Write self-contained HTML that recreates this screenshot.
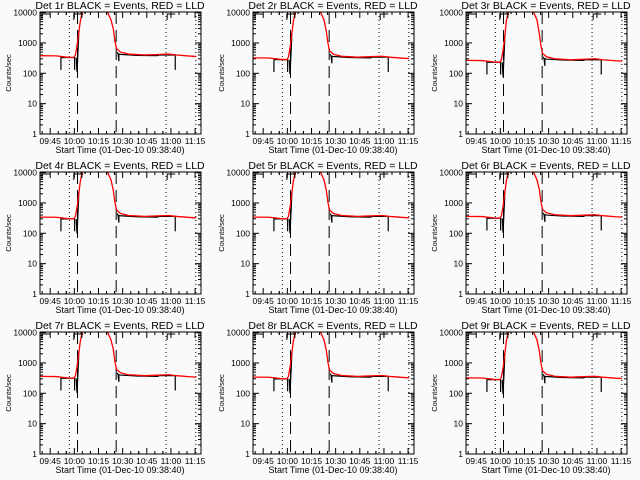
<!DOCTYPE html>
<html><head><meta charset="utf-8"><style>
body{margin:0;background:#fafafa;}
svg{display:block;font-family:"Liberation Sans",sans-serif;}
</style></head><body>
<svg id="c" width="640" height="480"></svg>
<script>
// minutes since 09:38:40
const redT=[0,10,17,21,22,23,24,25,26,27,30,40,42,44,45.5,46.5,47.5,50,55,65,75,80,85,93,97];
const redV=[380,375,340,330,400,800,2000,5000,9000,12000,15000,15000,10000,6000,3000,1200,650,500,430,400,420,430,400,370,360];
const blkSegs=[
 {t:[13,13,13,20,21,21.5,21.5,21.5], v:[340,130,330,330,330,330,130,330]},
 {t:[22.5,23,23.5,24,24], v:[330,110,400,1500,2500]},
 {t:[25.5,25.5,28,28], v:[9000,11000,11000,9000]},
 {t:[48,48.5,49,49,50,60,73,74,84,84], v:[500,430,250,430,420,390,380,400,400,130]}
];
const panelScale=[1.0,0.85,0.7,0.9,0.9,0.95,0.95,0.9,0.85];
const dottedT=[18.2,78.3,96.8];
const dashedT=[23.3,47.3];
const xTickLabels=["09:45","10:00","10:15","10:30","10:45","11:00","11:15"];
const xTickT=[6.33,21.33,36.33,51.33,66.33,81.33,96.33];
const yTickLabels=["1","10","100","1000","10000"];

const NS="http://www.w3.org/2000/svg";
const svg=document.getElementById('c');
function mk(tag,attrs,parent){const e=document.createElementNS(NS,tag);for(const k in attrs)e.setAttribute(k,attrs[k]);(parent||svg).appendChild(e);return e;}
for(let p=0;p<9;p++){
 const ox=(p%3)*213, oy=Math.floor(p/3)*160;
 const L=ox+40,R=ox+201,T=oy+12,B=oy+134;
 const xs=t=>L+(t/100)*(R-L);
 const ys=v=>B-Math.log10(v)/4.02*(B-T);
 const g=mk('g',{});
 
 
 const cid='clip'+p;
 const cp=mk('clipPath',{id:cid},g);mk('rect',{x:L,y:T,width:R-L,height:B-T},cp);
 const title=mk('text',{x:ox+120,y:oy+9,'text-anchor':'middle','font-size':'10.5'},g);
 title.textContent='Det '+(p+1)+'r BLACK = Events, RED = LLD';
 
 
 const yl=mk('text',{x:0,y:0,'text-anchor':'middle','font-size':'7.5',transform:`translate(${ox+11},${(T+B)/2}) rotate(-90)`},g);
 yl.textContent='Counts/sec';
 
 
 const xl=mk('text',{x:ox+120,y:oy+153,'text-anchor':'middle','font-size':'9'},g);
 xl.textContent='Start Time (01-Dec-10 09:38:40)';
 
 
 // y ticks
 for(let d=0;d<5;d++){
  const y=ys(Math.pow(10,d));
  mk('line',{x1:L,x2:L+6,y1:y,y2:y,stroke:'#000'},g);mk('line',{x1:R,x2:R-6,y1:y,y2:y,stroke:'#000'},g);
  const tl=mk('text',{x:L-3,y:y+3,'text-anchor':'end','font-size':'8.5'},g);tl.textContent=yTickLabels[d];
  
  
  if(d<4)for(let m=2;m<10;m++){const yy=ys(m*Math.pow(10,d));mk('line',{x1:L,x2:L+3,y1:yy,y2:yy,stroke:'#000'},g);mk('line',{x1:R,x2:R-3,y1:yy,y2:yy,stroke:'#000'},g);}
 }
 // x ticks
 xTickT.forEach((t,i)=>{
  const x=xs(t);
  mk('line',{x1:x,x2:x,y1:B,y2:B-6,stroke:'#000'},g);mk('line',{x1:x,x2:x,y1:T,y2:T+6,stroke:'#000'},g);
  for(let m=1;m<3;m++){const xm=xs(t+m*5);if(xm<R){mk('line',{x1:xm,x2:xm,y1:B,y2:B-3,stroke:'#000'},g);mk('line',{x1:xm,x2:xm,y1:T,y2:T+3,stroke:'#000'},g);}}
  const xm0=xs(t-5);if(xm0>L){mk('line',{x1:xm0,x2:xm0,y1:B,y2:B-3,stroke:'#000'},g);mk('line',{x1:xm0,x2:xm0,y1:T,y2:T+3,stroke:'#000'},g);}
  const tl=mk('text',{x:x,y:B+10,'text-anchor':'middle','font-size':'8.5'},g);tl.textContent=xTickLabels[i];
  
  
 });
 dottedT.forEach(t=>{const l=mk('line',{x1:xs(t),x2:xs(t),y1:T,y2:B,stroke:'#000','stroke-dasharray':'1,3'},g);
  });
 dashedT.forEach(t=>{const l=mk('line',{x1:xs(t),x2:xs(t),y1:T,y2:B,stroke:'#000','stroke-dasharray':'12,6'},g);
  });
 const sc=panelScale[p];
 const scl=v=>v<5000?v*sc:v;
 const dg=mk('g',{'clip-path':`url(#${cid})`},g);
 blkSegs.forEach(s=>{
  const pl=mk('polyline',{points:s.t.map((t,i)=>xs(t)+','+ys(scl(s.v[i]))).join(' '),fill:'none',stroke:'#000','stroke-width':'1.2'},dg);
  
 });
 const rl=mk('polyline',{points:redT.map((t,i)=>xs(t)+','+ys(scl(redV[i]))).join(' '),fill:'none',stroke:'#f00','stroke-width':'1.3'},dg);
 
 // small brackets at top
 mk('polyline',{points:`${L+2},${T+8} ${L+2},${T+2} ${L+10},${T+2}`,fill:'none',stroke:'#000'},g);
 mk('polyline',{points:`${xs(21)},${T+8} ${xs(21)},${T+2} ${xs(26)},${T+2} ${xs(26)},${T+6}`,fill:'none',stroke:'#000'},g);
 mk('polyline',{points:`${xs(79)},${T+8} ${xs(79)},${T+2} ${xs(84)},${T+2}`,fill:'none',stroke:'#000'},g);
 mk('rect',{x:L,y:T,width:R-L,height:B-T,fill:'none',stroke:'#000'},g);
}
</script>
</body></html>
